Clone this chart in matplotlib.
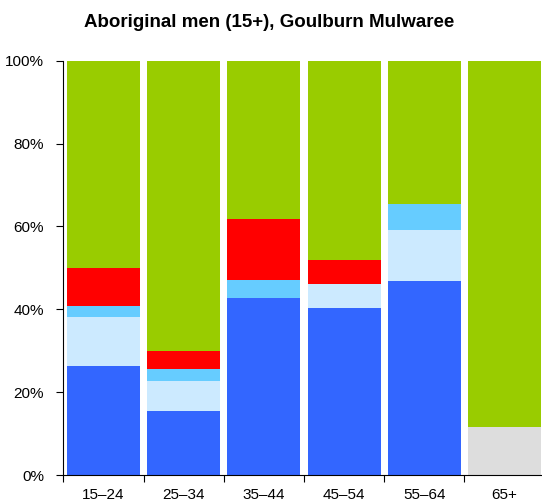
import matplotlib.pyplot as plt
import numpy as np

plt.rcParams["font.family"] = ["Liberation Sans", "DejaVu Sans"]

age_groups = ["15–24", "25–34", "35–44", "45–54", "55–64", "65+"]

# shares of each age group (%), bottom to top
full_time = [26.3, 15.4, 42.7, 40.4, 46.9, 0.0]
part_time = [11.9, 7.4, 0.0, 5.8, 12.3, 0.0]
away_from_work = [2.7, 2.7, 4.4, 0.0, 6.1, 0.0]
unemployed = [9.1, 4.5, 14.6, 5.7, 0.0, 0.0]
not_stated = [0.0, 0.0, 0.0, 0.0, 0.0, 11.6]
not_in_labour_force = [50.0, 70.0, 38.3, 48.1, 34.7, 88.4]

series = [
    (full_time, "#3366ff"),
    (part_time, "#cceaff"),
    (away_from_work, "#66ccff"),
    (unemployed, "#ff0000"),
    (not_stated, "#dddddd"),
    (not_in_labour_force, "#99cc00"),
]

fig = plt.figure(figsize=(5.42, 5.04), dpi=100)
ax = fig.add_axes([0.117, 0.0575, 0.888, 0.822])

x = np.arange(len(age_groups)) + 0.5
bottom = np.zeros(len(age_groups))
for values, colour in series:
    values = np.array(values)
    ax.bar(x, values, width=0.91, bottom=bottom, color=colour, linewidth=0)
    bottom += values

ax.set_xlim(0, len(age_groups))
ax.set_ylim(0, 100)

# ticks sit between the bars, labels under the bars
ax.set_xticks(np.arange(len(age_groups) + 1))
ax.set_xticklabels([])
ax.set_xticks(x, minor=True)
ax.set_xticklabels(age_groups, minor=True, fontsize=11)
ax.tick_params(axis="x", which="major", length=5, direction="out")
ax.tick_params(axis="x", which="minor", length=0, pad=9)

ax.set_yticks(np.arange(0, 101, 20))
ax.set_yticklabels([f"{v}%" for v in range(0, 101, 20)], fontsize=11)
ax.tick_params(axis="y", length=5, direction="out", pad=9)

for side in ["top", "right"]:
    ax.spines[side].set_visible(False)

fig.text(0.497, 0.955, "Aboriginal men (15+), Goulburn Mulwaree",
         ha="center", va="center", fontsize=13.5, fontweight="bold")

fig.savefig("out.png", dpi=100)
